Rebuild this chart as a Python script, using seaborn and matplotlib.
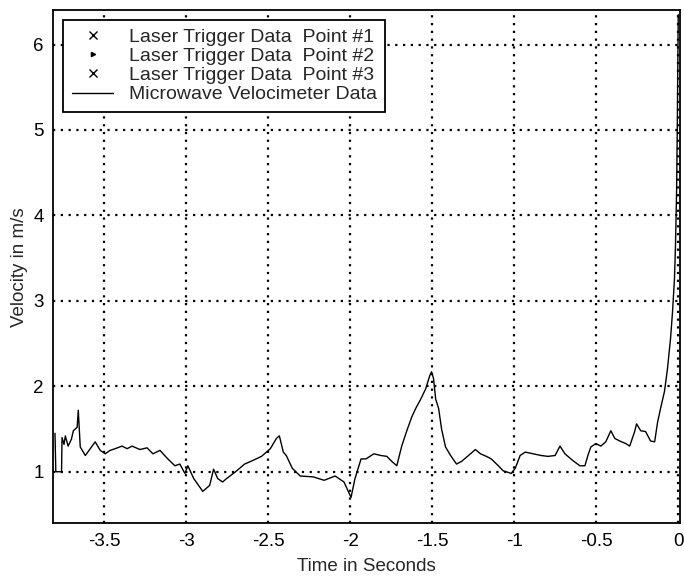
import numpy as np
import pandas as pd
import matplotlib
matplotlib.use('Agg')
import matplotlib.pyplot as plt
import seaborn as sns

# Microwave velocimeter trace
time_s = [-3.800, -3.795, -3.760, -3.757, -3.745, -3.737, -3.720, -3.700, -3.688,
          -3.665, -3.658, -3.646, -3.615, -3.585, -3.555, -3.524, -3.494, -3.464,
          -3.433, -3.391, -3.360, -3.330, -3.282, -3.239, -3.203, -3.160, -3.112,
          -3.069, -3.039, -3.008, -2.990, -2.954, -2.899, -2.857, -2.833, -2.808,
          -2.778, -2.754, -2.699, -2.644, -2.596, -2.541, -2.487, -2.450, -2.432,
          -2.408, -2.390, -2.353, -2.305, -2.226, -2.159, -2.092, -2.038, -1.995,
          -1.971, -1.934, -1.904, -1.856, -1.813, -1.777, -1.746, -1.716, -1.686,
          -1.655, -1.625, -1.601, -1.570, -1.540, -1.516, -1.504, -1.492, -1.479,
          -1.461, -1.443, -1.419, -1.388, -1.352, -1.322, -1.279, -1.237, -1.206,
          -1.170, -1.140, -1.097, -1.067, -1.049, -1.018, -0.994, -0.964, -0.933,
          -0.885, -0.836, -0.794, -0.751, -0.721, -0.691, -0.642, -0.600, -0.569,
          -0.551, -0.533, -0.502, -0.472, -0.442, -0.411, -0.387, -0.357, -0.320,
          -0.296, -0.266, -0.254, -0.229, -0.199, -0.169, -0.144, -0.126, -0.108,
          -0.084, -0.066, -0.047, -0.035, -0.023, -0.017, -0.010, -0.006, -0.003,
          0.000]
velocity = [1.45, 1.00, 1.00, 1.40, 1.32, 1.42, 1.30, 1.38, 1.48,
            1.52, 1.72, 1.29, 1.19, 1.27, 1.35, 1.25, 1.21, 1.25,
            1.27, 1.30, 1.27, 1.30, 1.26, 1.28, 1.21, 1.25, 1.15,
            1.07, 1.09, 0.98, 1.07, 0.92, 0.77, 0.84, 1.03, 0.92,
            0.88, 0.92, 1.00, 1.09, 1.13, 1.18, 1.27, 1.39, 1.42,
            1.23, 1.19, 1.04, 0.95, 0.94, 0.90, 0.95, 0.88, 0.70,
            0.92, 1.15, 1.15, 1.21, 1.19, 1.18, 1.12, 1.07, 1.30,
            1.48, 1.64, 1.74, 1.85, 1.97, 2.12, 2.17, 2.09, 1.85,
            1.74, 1.50, 1.29, 1.19, 1.09, 1.12, 1.19, 1.26, 1.21,
            1.18, 1.15, 1.07, 1.01, 1.00, 0.98, 1.04, 1.19, 1.23,
            1.21, 1.19, 1.18, 1.19, 1.30, 1.21, 1.13, 1.07, 1.07,
            1.19, 1.29, 1.33, 1.30, 1.35, 1.48, 1.39, 1.36, 1.33,
            1.30, 1.47, 1.56, 1.48, 1.47, 1.36, 1.35, 1.58, 1.74,
            1.94, 2.20, 2.56, 2.87, 3.26, 3.64, 4.30, 5.00, 5.70,
            6.35]

# laser trigger points (not visible inside the plotted window)
trigger1_t, trigger1_v = [], []
trigger2_t, trigger2_v = [], []
trigger3_t, trigger3_v = [], []

xticks = [-3.5, -3, -2.5, -2, -1.5, -1, -0.5, 0]
xtick_labels = ['-3.5', '-3', '-2.5', '-2', '-1.5', '-1', '-0.5', '0']
yticks = [1, 2, 3, 4, 5, 6]

sns.set_style('white')
plt.rcParams['font.family'] = ['Liberation Sans', 'DejaVu Sans']

df = pd.DataFrame({'t': time_s, 'v': velocity})

fig = plt.figure(figsize=(6.84, 5.76), dpi=100)
ax = fig.add_axes([0.078, 0.092, 0.916, 0.890])

ax.plot(trigger1_t, trigger1_v, 'x', color='black', ms=6, mew=1,
        label='Laser Trigger Data  Point #1')
ax.plot(trigger2_t, trigger2_v, '>', color='black', ms=3,
        label='Laser Trigger Data  Point #2')
ax.plot(trigger3_t, trigger3_v, 'x', color='black', ms=6, mew=1,
        label='Laser Trigger Data  Point #3')
sns.lineplot(data=df, x='t', y='v', ax=ax, color='black', lw=1.0,
             sort=False, estimator=None, label='Microwave Velocimeter Data')

ax.set_xlim(-3.81, 0.01)
ax.set_ylim(0.4, 6.4)
ax.set_xticks(xticks)
ax.set_xticklabels(xtick_labels)
ax.set_yticks(yticks)
ax.grid(True, color='black', linestyle=(0, (1, 2.5)), linewidth=1.6)
ax.tick_params(direction='in', length=4, labelsize=13.5, colors='black', pad=7)
for s in ax.spines.values():
    s.set_color('black')
    s.set_linewidth(1.3)

ax.set_xlabel('Time in Seconds', fontsize=13.5, labelpad=6)
ax.set_ylabel('Velocity in m/s', fontsize=13.5, labelpad=4)

leg = ax.legend(loc='upper left', bbox_to_anchor=(0.016, 0.982), fontsize=14,
                frameon=True, fancybox=False, framealpha=1, edgecolor='black',
                labelspacing=0.08, handlelength=2.1, handletextpad=0.8,
                borderpad=0.45, borderaxespad=0)
leg.get_frame().set_linewidth(1.3)

fig.savefig('out.png', dpi=100)
